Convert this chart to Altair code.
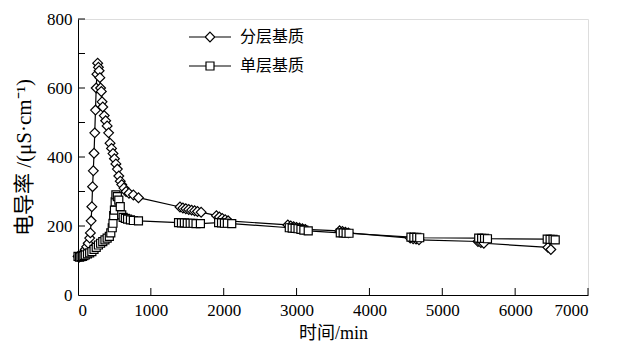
import altair as alt
import pandas as pd

series_names = ["分层基质", "单层基质"]

# 分层基质 (diamonds)
t_layered = [0, 20, 40, 60, 80, 100, 120, 140, 160, 170, 180, 190, 200, 210, 220, 230, 240, 250,
             260, 270, 280, 290, 300, 310, 320, 330, 340, 360, 380, 400, 420, 440, 460, 480, 500,
             520, 540, 560, 580, 600, 630, 660, 700, 760, 830,
             1400, 1440, 1480, 1520, 1560, 1600, 1640, 1690,
             1900, 1940, 1980, 2020, 2060,
             2880, 2920, 2960, 3000, 3040, 3080, 3120,
             3590, 3630, 3670, 3710,
             4560, 4600, 4640, 4680,
             5490, 5530, 5570,
             6450, 6490]
v_layered = [112, 110, 112, 118, 125, 132, 140, 150, 165, 180, 215, 256, 314, 360, 411, 470, 536, 600,
             640, 672, 660, 650, 630, 600, 590, 560, 545, 520, 505, 490, 470, 440, 425, 410, 395,
             380, 365, 345, 330, 320, 310, 300, 295, 290, 282,
             255, 252, 250, 248, 246, 244, 242, 240,
             230, 226, 222, 218, 215,
             203, 200, 198, 196, 194, 192, 190,
             186, 184, 182, 180,
             165, 163, 162, 160,
             155, 152, 150,
             138, 132]

# 单层基质 (squares)
t_single = [0, 20, 40, 60, 80, 100, 130, 160, 190, 220, 250, 280, 310, 340, 370, 400, 430, 450,
            470, 480, 490, 500, 510, 520, 540, 560, 580, 600, 620, 650, 680, 720, 760, 830,
            1380, 1420, 1460, 1500, 1540, 1580, 1620, 1680,
            1930, 1970, 2010, 2050, 2110,
            2900, 2940, 2980, 3020, 3060, 3100, 3160,
            3600, 3640, 3680, 3720,
            4570, 4610, 4650, 4690,
            5500, 5540, 5580, 5620,
            6440, 6480, 6520, 6550]
v_single = [112, 110, 111, 112, 114, 116, 119, 122, 126, 132, 138, 145, 150, 155, 160, 165, 170, 180,
            195, 208, 230, 246, 270, 290, 285, 275, 256, 232, 225, 222, 220, 218, 216, 215,
            210, 209, 209, 208, 208, 208, 207, 207,
            210, 209, 208, 208, 207,
            195, 194, 193, 192, 190, 188, 186,
            180, 180, 179, 179,
            168, 167, 167, 166,
            165, 164, 164, 163,
            162, 161, 161, 160]

x_ticks = [0, 1000, 2000, 3000, 4000, 5000, 6000, 7000]
y_ticks = [0, 100, 200, 300, 400, 500, 600, 700, 800]

df_l = pd.DataFrame({"t": t_layered, "v": v_layered, "series": series_names[0]})
df_s = pd.DataFrame({"t": t_single, "v": v_single, "series": series_names[1]})
df = pd.concat([df_l, df_s], ignore_index=True)

SERIF = "Liberation Serif, Noto Sans CJK SC"

xs = alt.Scale(domain=[0, 7000], nice=False, zero=False)
ys = alt.Scale(domain=[0, 800], nice=False, zero=False)

X = alt.X("t:Q", scale=xs, axis=alt.Axis(
    values=x_ticks, ticks=False, grid=False, title="时间/min", format="d",
    labelFont=SERIF, labelFontSize=17, labelColor="black", labelPadding=7,
    titleFont=SERIF, titleFontSize=18, titleFontWeight="normal", titleColor="black", titlePadding=6,
    domainColor="black", domainWidth=1))
Y = alt.Y("v:Q", scale=ys, axis=alt.Axis(
    values=y_ticks, ticks=False, grid=False, title="电导率 /(μS·cm⁻¹)", format="d",
    labelFont=SERIF, labelFontSize=17, labelColor="black", labelPadding=6,
    titleFont=SERIF, titleFontSize=21, titleFontWeight="normal", titleColor="black", titlePadding=12,
    domainColor="black", domainWidth=1))

lines = alt.Chart(df).mark_line(color="black", strokeWidth=1.2).encode(
    x=X, y=Y, detail="series:N", order="t:Q")

pts_l = alt.Chart(df_l).mark_point(shape="diamond", size=95, filled=True, fill="white",
                                   stroke="black", strokeWidth=1.2, opacity=1).encode(
    x=alt.X("t:Q", scale=xs), y=alt.Y("v:Q", scale=ys))
pts_s = alt.Chart(df_s).mark_point(shape="square", size=64, filled=True, fill="white",
                                   stroke="black", strokeWidth=1.2, opacity=1).encode(
    x=alt.X("t:Q", scale=xs), y=alt.Y("v:Q", scale=ys))

# inward ticks
xt = alt.Chart(pd.DataFrame({"tick": x_ticks[1:]})).mark_rule(color="black", strokeWidth=1).encode(
    x=alt.X("tick:Q", scale=xs), y=alt.value(276), y2=alt.value(269))
yt = alt.Chart(pd.DataFrame({"tick": y_ticks[1:]})).mark_rule(color="black", strokeWidth=1).encode(
    y=alt.Y("tick:Q", scale=ys), x=alt.value(0), x2=alt.value(7))

path_d = "M-2.1,0H-0.48M0.48,0H2.1M0,-0.48L0.48,0L0,0.48L-0.48,0Z"
path_s = "M-2.1,0H-0.4M0.4,0H2.1M-0.4,-0.4H0.4V0.4H-0.4Z"

legend_layer = alt.Chart(df).mark_point(filled=False, color="black", strokeWidth=1.2,
                                        opacity=0, size=400).encode(
    x=alt.X("t:Q", scale=xs), y=alt.Y("v:Q", scale=ys),
    shape=alt.Shape("series:N", scale=alt.Scale(domain=series_names, range=[path_d, path_s]),
                    legend=alt.Legend(title=None, orient="none", legendX=121, legendY=7,
                                      padding=0, symbolSize=400, symbolFillColor="white",
                                      symbolStrokeColor="black", symbolStrokeWidth=1.2,
                                      symbolOpacity=1, labelOffset=19, rowPadding=10,
                                      labelFont="Noto Sans CJK SC", labelFontSize=16,
                                      labelColor="black", labelLimit=200))
)

chart = alt.layer(lines, pts_l, pts_s, xt, yt, legend_layer).resolve_scale(shape="independent").properties(
    width=510, height=276,
    autosize=alt.AutoSizeParams(type="none"),
    padding={"left": 70, "top": 11, "right": 32, "bottom": 60},
).configure_view(stroke=None).configure(background="white")

chart.save("out.html", embed_options={"renderer": "svg", "actions": False})
